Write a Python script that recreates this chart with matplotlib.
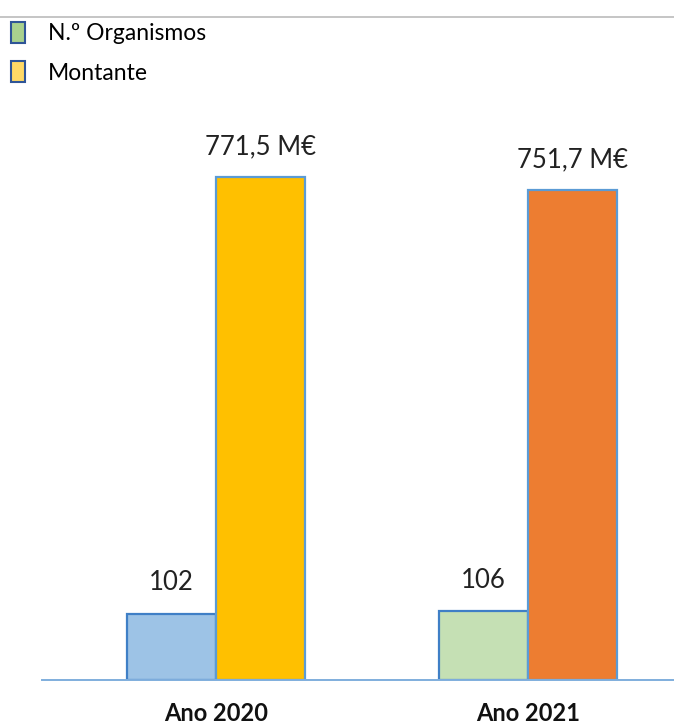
import matplotlib.pyplot as plt
from matplotlib.patches import Patch
from matplotlib.lines import Line2D
import numpy as np

plt.rcParams['font.family'] = ['Lato', 'DejaVu Sans']

anos = ["Ano 2020", "Ano 2021"]
organismos = [102, 106]
montante = [771.5, 751.7]

cores_org = ["#9DC3E6", "#C5E0B4"]
cores_mont = ["#FFC000", "#ED7D31"]
borda = "#5B9BD5"

fig = plt.figure(figsize=(6.74, 7.25), dpi=100)
ax = fig.add_axes([42 / 674, 45 / 725, 632 / 674, 580 / 725])

x = np.arange(len(anos))
w = 0.285
b1 = ax.bar(x - w / 2, organismos, w, color=cores_org, edgecolor="#3F7FC6", linewidth=1.6)
b2 = ax.bar(x + w / 2, montante, w, color=cores_mont, edgecolor=borda, linewidth=1.6)

for rect, v in zip(b1, organismos):
    ax.annotate(str(v), (rect.get_x() + rect.get_width() / 2, rect.get_height()),
                xytext=(0, 22), textcoords="offset points", ha="center", va="center",
                fontsize=18.5, color="#222222")
for rect, v in zip(b2, montante):
    txt = f"{v:.1f}".replace(".", ",") + " M€"
    ax.annotate(txt, (rect.get_x() + rect.get_width() / 2, rect.get_height()),
                xytext=(0, 22), textcoords="offset points", ha="center", va="center",
                fontsize=18.5, color="#222222")

ax.set_xlim(-0.558, 1.468)
ax.set_ylim(0, 890)
ax.set_xticks(x)
ax.set_xticklabels(anos, fontsize=17, fontweight="bold", color="#111111")
ax.tick_params(axis="x", length=0, pad=16)
ax.set_yticks([])
for s in ["left", "right", "top"]:
    ax.spines[s].set_visible(False)
ax.spines["bottom"].set_color("#7FAEDD")
ax.spines["bottom"].set_linewidth(1.4)

# linha cinzenta no topo
fig.add_artist(Line2D([0, 1], [1 - 17 / 725, 1 - 17 / 725], color="#BBBBBB", linewidth=1.2))

handles = [Patch(facecolor="#A9D18E", edgecolor="#2F5597", linewidth=1.5),
           Patch(facecolor="#FFD966", edgecolor="#2F5597", linewidth=1.5)]
fig.legend(handles, ["N.º Organismos", "Montante"], loc="upper left",
           bbox_to_anchor=(0.0034, 1 - 13 / 725), frameon=False, fontsize=16.5,
           handlelength=0.6, handleheight=1.0, handletextpad=1.0, labelspacing=0.75,
           borderaxespad=0.0)

fig.savefig("out.png", dpi=100)
